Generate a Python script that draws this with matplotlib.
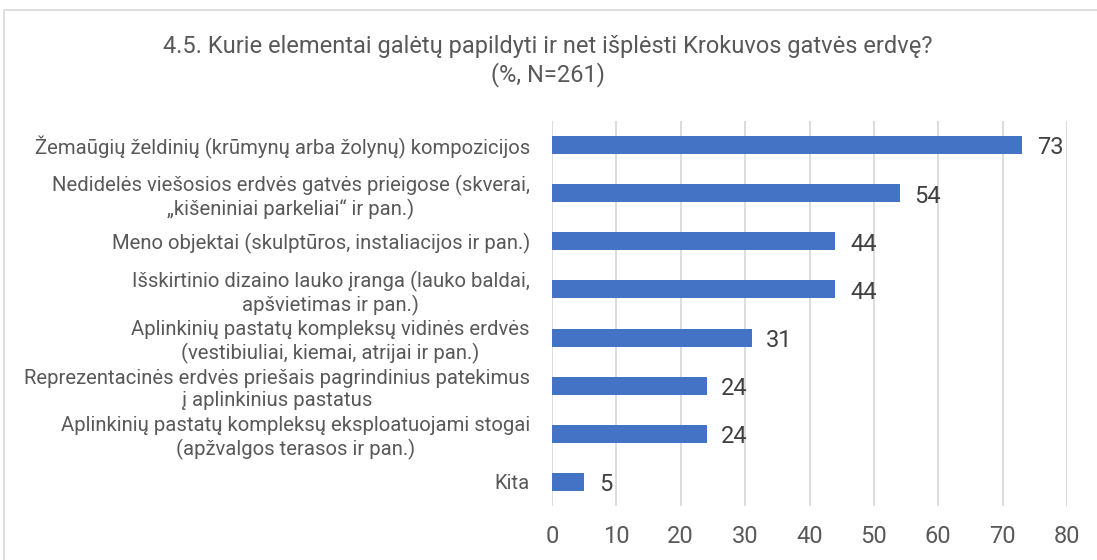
import matplotlib
matplotlib.use("Agg")
import matplotlib.pyplot as plt
from matplotlib.patches import Rectangle

categories = [
    "Žemaūgių želdinių (krūmynų arba žolynų) kompozicijos",
    "Nedidelės viešosios erdvės gatvės prieigose (skverai,\n„kišeniniai parkeliai“ ir pan.)",
    "Meno objektai (skulptūros, instaliacijos ir pan.)",
    "Išskirtinio dizaino lauko įranga (lauko baldai,\napšvietimas ir pan.)",
    "Aplinkinių pastatų kompleksų vidinės erdvės\n(vestibiuliai, kiemai, atrijai ir pan.)",
    "Reprezentacinės erdvės priešais pagrindinius patekimus\nį aplinkinius pastatus",
    "Aplinkinių pastatų kompleksų eksploatuojami stogai\n(apžvalgos terasos ir pan.)",
    "Kita",
]
values = [73, 54, 44, 44, 31, 24, 24, 5]
xticks = [0, 10, 20, 30, 40, 50, 60, 70, 80]
title = "4.5. Kurie elementai galėtų papildyti ir net išplėsti Krokuvos gatvės erdvę?\n(%, N=261)"

plt.rcParams['font.family'] = ['Roboto', 'DejaVu Sans']

W, H = 1097, 560
fig = plt.figure(figsize=(W / 100, H / 100), dpi=100)
fig.patch.set_facecolor("white")

# outer chart border (cropped)
fig.patches.append(Rectangle((4 / W, -0.05), 1.2, (H - 10) / H + 0.05,
                             transform=fig.transFigure, fill=False,
                             edgecolor="#d9d9d9", linewidth=1.2))

left, right = 552 / W, 1067 / W
bottom, top = 1 - 506 / H, 1 - 121 / H
ax = fig.add_axes([left, bottom, right - left, top - bottom])

y = list(range(len(categories)))
ax.barh(y, values, height=0.375, color="#4472C4", zorder=3)
ax.set_ylim(len(categories) - 0.5, -0.5)
ax.set_xlim(0, 80)
ax.set_xticks(xticks)
ax.set_xticklabels([str(t) for t in xticks], fontsize=17, color="#595959")
ax.set_yticks(y)
ax.set_yticklabels(categories, fontsize=14.6, color="#595959",
                   linespacing=1.22)
for lbl in ax.get_yticklabels():
    lbl.set_horizontalalignment("right")
    lbl.set_multialignment("center")
ax.tick_params(axis="y", length=0, pad=16)
ax.tick_params(axis="x", length=0, pad=14)
ax.grid(axis="x", color="#d9d9d9", linewidth=1.3, zorder=0)
for s in ax.spines.values():
    s.set_visible(False)

for yi, v in zip(y, values):
    ax.text(v + 2.3, yi + 0.06, str(v), va="center", ha="left",
            fontsize=17, color="#404040")

fig.text(548 / W, 1 - 61 / H, title, ha="center", va="center", fontsize=17,
         color="#595959", linespacing=1.2)

fig.savefig("out.png", dpi=100)
